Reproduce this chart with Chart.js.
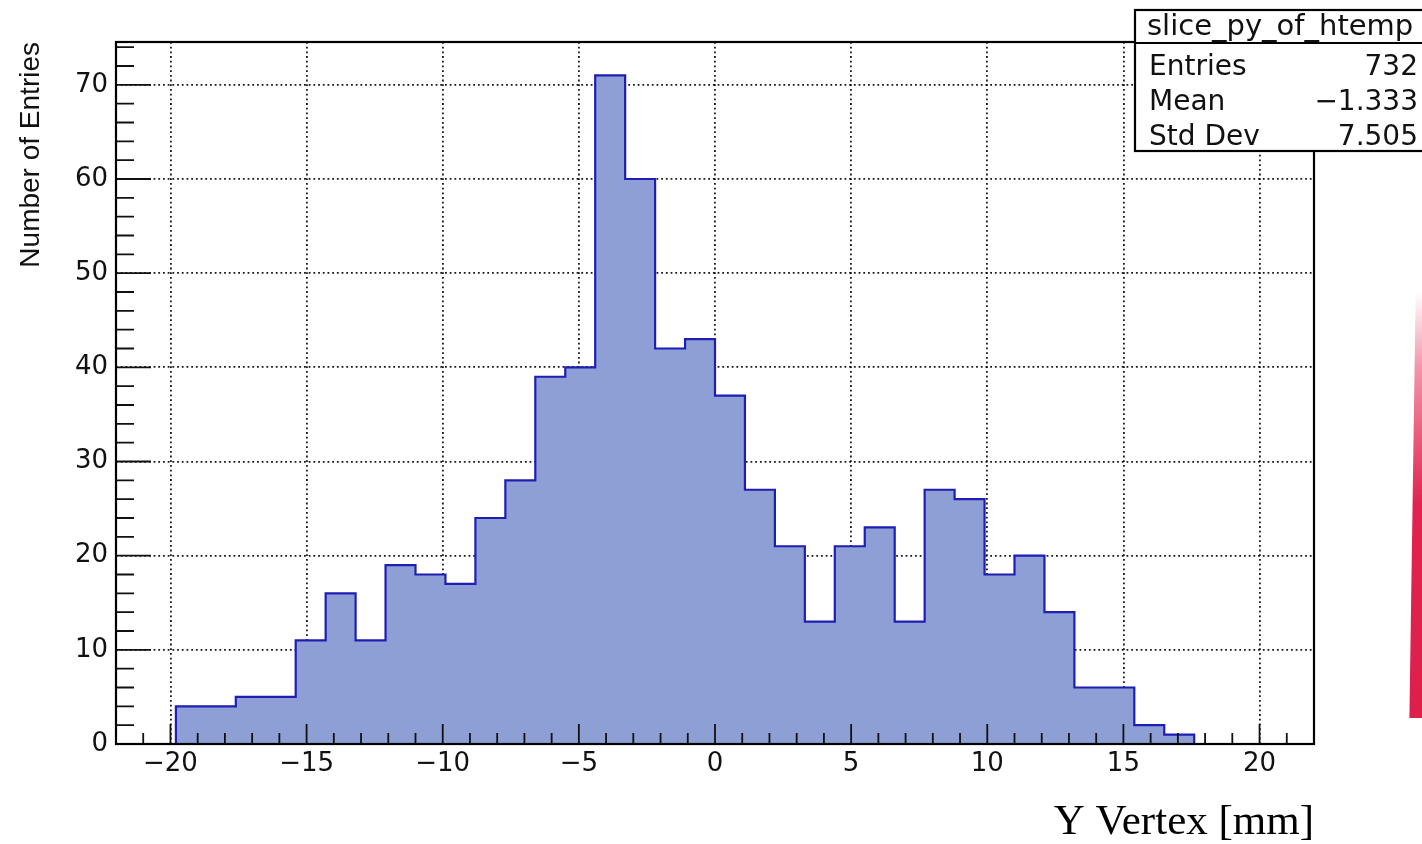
<!DOCTYPE html>
<html>
<head>
<meta charset="utf-8">
<script src="https://cdn.jsdelivr.net/npm/chart.js@4.4.1/dist/chart.umd.min.js"></script>
<style>
  html, body { margin: 0; padding: 0; background: #fff; }
  #wrap { position: relative; width: 1422px; height: 844px; overflow: hidden; }
  #sliver {
    position: absolute; left: 1408px; top: 292px; width: 14px; height: 426px;
    clip-path: polygon(55% 0, 100% 0, 100% 100%, 10% 100%);
    background: linear-gradient(to bottom, rgba(232,60,100,0) 0%, rgba(232,60,100,0.55) 18%, #e0234f 50%, #dc1f4b 100%);
  }
</style>
</head>
<body>
<div id="wrap">
  <canvas id="chart" width="1422" height="844"></canvas>
  <div id="sliver"></div>
</div>
<script>
// histogram binning: 40 bins over [-22, 22]
const nBins = 40;
const xLow = -22;
const xHigh = 22;
const counts = [0, 0, 4, 4, 5, 5, 11, 16, 11, 19, 18, 17, 24, 28, 39, 40, 71, 60, 42, 43,
                37, 27, 21, 13, 21, 23, 13, 27, 26, 18, 20, 14, 6, 6, 2, 1, 0, 0, 0, 0];

const xTicks = [-20, -15, -10, -5, 0, 5, 10, 15, 20];
const yTicks = [0, 10, 20, 30, 40, 50, 60, 70];
const yMax = 74.55;

const statsTitle = "slice_py_of_htemp";
const statNames = ["Entries", "Mean", "Std Dev"];
const statValues = ["732", "\u22121.333", "7.505"];

const binWidth = (xHigh - xLow) / nBins;
const points = counts.map((c, i) => ({ x: xLow + i * binWidth, y: c }));
points.push({ x: xHigh, y: 0 });

const tickFont = { family: "DejaVu Sans", size: 26 };
const fmt = v => v < 0 ? "\u2212" + Math.abs(v) : String(v);

// frame, inward ticks and the stats box, drawn over the histogram
const rootStyle = {
  id: "rootStyle",
  afterDraw(chart) {
    const ctx = chart.ctx;
    const a = chart.chartArea;
    const xs = chart.scales.x, ys = chart.scales.y;
    ctx.save();
    ctx.strokeStyle = "#111";
    ctx.lineWidth = 1.8;
    ctx.beginPath();
    for (let v = -21; v <= 21; v++) {
      const px = xs.getPixelForValue(v);
      const len = v % 5 === 0 ? 20 : 11;
      ctx.moveTo(px, a.bottom);
      ctx.lineTo(px, a.bottom - len);
    }
    for (let v = 0; v <= 74; v += 2) {
      const py = ys.getPixelForValue(v);
      const len = v % 10 === 0 ? 35 : 18;
      ctx.moveTo(a.left, py);
      ctx.lineTo(a.left + len, py);
    }
    ctx.stroke();

    ctx.lineWidth = 2.2;
    ctx.strokeStyle = "#000";
    ctx.strokeRect(a.left, a.top, a.right - a.left, a.bottom - a.top);

    // stats box
    const bx = 1135, by = 10, bw = 320, bh = 141;
    ctx.fillStyle = "#fff";
    ctx.fillRect(bx, by, bw, bh);
    ctx.strokeRect(bx, by, bw, bh);
    ctx.beginPath();
    ctx.moveTo(bx, 43);
    ctx.lineTo(bx + bw, 43);
    ctx.stroke();
    ctx.fillStyle = "#111";
    ctx.textBaseline = "alphabetic";
    ctx.font = "29px 'DejaVu Sans'";
    ctx.textAlign = "left";
    ctx.fillText(statsTitle, 1147, 35);
    ctx.font = "28px 'DejaVu Sans'";
    statNames.forEach((name, i) => {
      const y = 75 + i * 35;
      ctx.textAlign = "left";
      ctx.fillText(name, 1149, y);
      ctx.textAlign = "right";
      ctx.fillText(statValues[i], 1418, y);
    });
    ctx.restore();
  }
};

new Chart(document.getElementById("chart"), {
  type: "line",
  data: {
    datasets: [{
      label: statsTitle,
      data: points,
      stepped: true,
      fill: "origin",
      backgroundColor: "rgb(141,159,212)",
      borderColor: "rgb(30,30,180)",
      borderWidth: 2.2,
      pointRadius: 0
    }]
  },
  options: {
    responsive: false,
    animation: false,
    layout: { padding: { top: 42, right: 108, left: 0, bottom: 0 } },
    plugins: { legend: { display: false }, tooltip: { enabled: false } },
    scales: {
      x: {
        type: "linear",
        min: xLow,
        max: xHigh,
        afterBuildTicks: s => { s.ticks = xTicks.map(v => ({ value: v })); },
        afterFit: s => { s.height = 100; },
        ticks: { font: tickFont, color: "#111", padding: 5, maxRotation: 0, autoSkip: false, callback: fmt },
        grid: { color: "rgba(0,0,0,0.9)", lineWidth: 1.8, drawTicks: false },
        border: { display: false, dash: [1.8, 2.9] },
        title: {
          display: true, text: "Y Vertex [mm]", align: "end", color: "#000",
          font: { family: "Liberation Serif", size: 43, lineHeight: 1 },
          padding: { top: 0, bottom: 0 }
        }
      },
      y: {
        type: "linear",
        min: 0,
        max: yMax,
        afterBuildTicks: s => { s.ticks = yTicks.map(v => ({ value: v })); },
        afterFit: s => { s.width = 116; },
        ticks: { font: tickFont, color: "#111", padding: 8, autoSkip: false, callback: fmt },
        grid: { color: "rgba(0,0,0,0.9)", lineWidth: 1.8, drawTicks: false },
        border: { display: false, dash: [1.8, 2.9] },
        title: {
          display: true, text: "Number of Entries", align: "end", color: "#111",
          font: { family: "Liberation Sans", size: 28, lineHeight: 1.2 },
          padding: { top: 14, bottom: 0 }
        }
      }
    }
  },
  plugins: [rootStyle]
});
</script>
</body>
</html>
